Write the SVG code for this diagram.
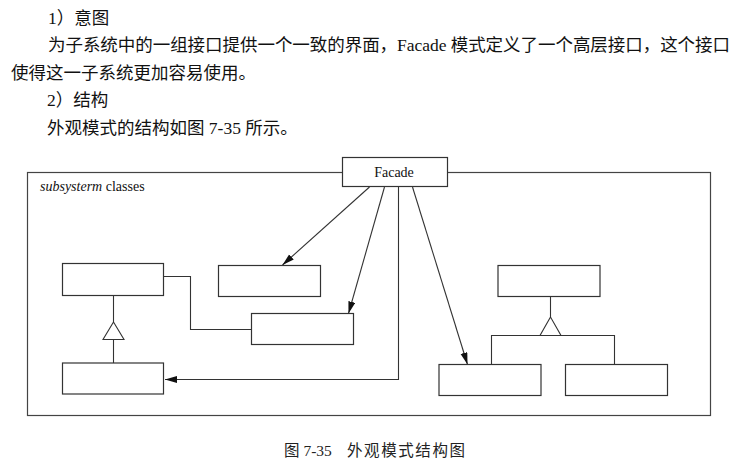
<svg xmlns="http://www.w3.org/2000/svg" width="756" height="467" viewBox="0 0 756 467">
<style>
.body{font-family:"Liberation Serif","Noto Sans CJK SC",serif;font-size:17.5px;fill:#111}
.cap{font-family:"Liberation Serif","Noto Sans CJK SC",serif;font-size:15.5px;fill:#222}
.lbl{font-family:"Liberation Serif",serif;font-size:14px;fill:#111}
.box{fill:#fff;stroke:#333;stroke-width:1.2}
.ln{fill:none;stroke:#333;stroke-width:1.1}
.tri{fill:#fff;stroke:#333;stroke-width:1.1}
</style>
<defs>
<marker id="arr" markerUnits="userSpaceOnUse" markerWidth="12" markerHeight="8" refX="12" refY="3.5" orient="auto">
<path d="M0,0 L12,3.5 L0,7 z" fill="#111"/>
</marker>
</defs>
<rect width="756" height="467" fill="#fff"/>
<g id="text">
<text class="body" x="48" y="24">1）意图</text>
<text class="body" x="48" y="51" textLength="682" lengthAdjust="spacing">为子系统中的一组接口提供一个一致的界面，Facade 模式定义了一个高层接口，这个接口</text>
<text class="body" x="11" y="79">使得这一子系统更加容易使用。</text>
<text class="body" x="47" y="106">2）结构</text>
<text class="body" x="47" y="134">外观模式的结构如图 7-35 所示。</text>
<text class="cap" x="284" y="456">图 7-35</text>
<text class="cap" x="347" y="456" textLength="118" lengthAdjust="spacing">外观模式结构图</text>
</g>
<g id="frame">
<rect x="27.5" y="172.5" width="683" height="243" fill="none" stroke="#444" stroke-width="1.2"/>
<text class="lbl" x="40" y="191"><tspan font-style="italic">subsysterm</tspan> classes</text>
</g>
<g id="connectors">
<line class="ln" x1="369.5" y1="187" x2="282.5" y2="265" marker-end="url(#arr)"/>
<line class="ln" x1="384.5" y1="187" x2="348.5" y2="313.5" marker-end="url(#arr)"/>
<line class="ln" x1="412.5" y1="187" x2="467.5" y2="364.5" marker-end="url(#arr)"/>
<polyline class="ln" points="398.5,187 398.5,379.5 165,379.5" marker-end="url(#arr)"/>
<polyline class="ln" points="164,276.5 190.5,276.5 190.5,329.5 251,329.5"/>
<line class="ln" x1="113.5" y1="295" x2="113.5" y2="322"/>
<line class="ln" x1="113.5" y1="339.5" x2="113.5" y2="363"/>
<polygon class="tri" points="113.5,322 103,339.5 124,339.5"/>
<line class="ln" x1="550.5" y1="297" x2="550.5" y2="317"/>
<polyline class="ln" points="491.5,364.5 491.5,335.5 614.5,335.5 614.5,364.5"/>
<polygon class="tri" points="550.5,317 540,335.5 561,335.5"/>
</g>
<g id="facade">
<rect class="box" x="342.5" y="157.5" width="105" height="29"/>
<text class="lbl" x="394" y="177" text-anchor="middle">Facade</text>
</g>
<g id="classA"><rect class="box" x="62.5" y="263.5" width="101" height="32"/></g>
<g id="classB"><rect class="box" x="218.5" y="265.5" width="102" height="31"/></g>
<g id="classC"><rect class="box" x="251.5" y="313.5" width="102" height="31"/></g>
<g id="classD"><rect class="box" x="62.5" y="363" width="101" height="31"/></g>
<g id="classE"><rect class="box" x="439" y="364.5" width="102" height="31"/></g>
<g id="classF"><rect class="box" x="565.5" y="364.5" width="102" height="31"/></g>
<g id="classG"><rect class="box" x="498" y="265.5" width="102" height="31"/></g>
</svg>
